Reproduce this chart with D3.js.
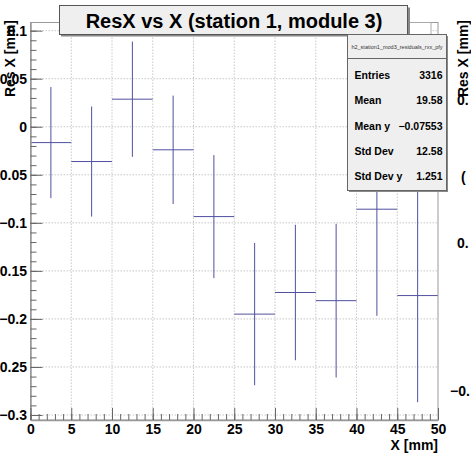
<!DOCTYPE html>
<html>
<head>
<meta charset="utf-8">
<script src="https://cdn.jsdelivr.net/npm/d3@7"></script>
<style>
  body { margin: 0; background: #fff; }
  svg { display: block; font-family: "Liberation Sans", Arial, sans-serif; font-weight: bold; }
</style>
</head>
<body>
<div id="chart"></div>
<script>
// bins of the profile (low edge, width 5 mm)
const binLow = [0, 5, 10, 15, 20, 25, 30, 35, 40, 45];
const binWidth = 5;
const meanY = [-0.0165, -0.0362, 0.0287, -0.024, -0.0935, -0.195, -0.1725, -0.181, -0.0858, -0.1757];
const errY = [0.0578, 0.0573, 0.06, 0.0564, 0.064, 0.074, 0.0705, 0.08, 0.111, 0.111];

const xTicks = [0, 5, 10, 15, 20, 25, 30, 35, 40, 45, 50];
const yTicks = [0.1, 0.05, 0, -0.05, -0.1, -0.15, -0.2, -0.25, -0.3];

const chartTitle = "ResX vs X (station 1, module 3)";
const histName = "h2_station1_mod3_residuals_rxx_pfy";
const statLabels = ["Entries", "Mean", "Mean y", "Std Dev", "Std Dev y"];
const statValues = ["3316", "19.58", "\u22120.07553", "12.58", "1.251"];

const W = 471, H = 455;
const frame = { left: 30.5, right: 438, top: 22.5, bottom: 420 };

const svg = d3.select("#chart").append("svg")
  .attr("width", W).attr("height", H);

const x = d3.scaleLinear().domain([0, 50]).range([frame.left, frame.right]);
const y = d3.scaleLinear().domain([-0.3052, 0.1085]).range([frame.bottom, frame.top]);

// grid (dotted)
const grid = svg.append("g").attr("stroke", "#c8c8c8").attr("stroke-dasharray", "1.5,1.5").attr("stroke-width", 1);
grid.selectAll("line.gx").data(xTicks.slice(1, -1)).join("line")
  .attr("x1", d => x(d)).attr("x2", d => x(d))
  .attr("y1", frame.top).attr("y2", frame.bottom);
grid.selectAll("line.gy").data(yTicks).join("line")
  .attr("x1", frame.left).attr("x2", frame.right)
  .attr("y1", d => y(d)).attr("y2", d => y(d));

// error bars
const bars = svg.append("g").attr("stroke", "#5050a0").attr("stroke-width", 1);
binLow.forEach((lo, i) => {
  const c = lo + binWidth / 2;
  bars.append("line")
    .attr("x1", x(lo)).attr("x2", x(lo + binWidth))
    .attr("y1", y(meanY[i])).attr("y2", y(meanY[i]));
  bars.append("line")
    .attr("x1", x(c)).attr("x2", x(c))
    .attr("y1", y(meanY[i] + errY[i])).attr("y2", y(meanY[i] - errY[i]));
});

// frame
svg.append("rect")
  .attr("x", frame.left).attr("y", frame.top)
  .attr("width", frame.right - frame.left).attr("height", frame.bottom - frame.top)
  .attr("fill", "none").attr("stroke", "#999").attr("stroke-width", 1);

const fmt = d3.format("~f");

// y axis, ticks pointing inward
svg.append("g").attr("transform", `translate(${frame.left},0)`)
  .call(d3.axisLeft(y).tickValues(yTicks).tickFormat(fmt).tickSizeInner(-12).tickSizeOuter(0).tickPadding(3.5));
svg.append("g").attr("transform", `translate(${frame.left},0)`)
  .call(d3.axisLeft(y).ticks(40).tickFormat("").tickSizeInner(-6).tickSizeOuter(0))
  .select(".domain").remove();

svg.append("g").attr("transform", `translate(0,${frame.bottom})`)
  .call(d3.axisBottom(x).tickValues(xTicks).tickFormat(fmt).tickSizeInner(-12).tickSizeOuter(0).tickPadding(4));
svg.append("g").attr("transform", `translate(0,${frame.bottom})`)
  .call(d3.axisBottom(x).ticks(50).tickFormat("").tickSizeInner(-6).tickSizeOuter(0))
  .select(".domain").remove();

svg.selectAll(".tick line").attr("stroke", "#666");
svg.selectAll(".domain").attr("stroke", "#999").attr("stroke-width", 1.5);
svg.selectAll(".tick text").attr("font-size", 14).attr("font-weight", "bold")
  .attr("font-family", "Liberation Sans, Arial, sans-serif").attr("fill", "#000");

// axis titles
svg.append("text").attr("x", frame.right).attr("y", 450)
  .attr("text-anchor", "end").attr("font-size", 14).attr("fill", "#000").text("X [mm]");
svg.append("text").attr("transform", "translate(15,20) rotate(-90)")
  .attr("text-anchor", "end").attr("font-size", 14).attr("fill", "#000").text("Res X [mm]");

// hidden box edge behind stats
svg.append("rect").attr("x", 347).attr("y", 22.5).attr("width", 84).attr("height", 13)
  .attr("fill", "#fff").attr("stroke", "#aaa").attr("stroke-width", 1);

// title box
svg.append("rect").attr("x", 61).attr("y", 7.5).attr("width", 349).attr("height", 29)
  .attr("fill", "#888");
svg.append("rect").attr("x", 59.5).attr("y", 5.5).attr("width", 348).attr("height", 29)
  .attr("fill", "#efefef").attr("stroke", "#555").attr("stroke-width", 1);
svg.append("text").attr("x", 234).attr("y", 28).attr("text-anchor", "middle")
  .attr("font-size", 20).attr("fill", "#000").text(chartTitle);

// stats box
const sb = { x: 347.5, y: 34.5, w: 99, h: 156 };
svg.append("rect").attr("x", sb.x + 1.5).attr("y", sb.y + 1.5).attr("width", sb.w).attr("height", sb.h)
  .attr("fill", "#888");
svg.append("rect").attr("x", sb.x).attr("y", sb.y).attr("width", sb.w).attr("height", sb.h)
  .attr("fill", "#efefef").attr("stroke", "#666").attr("stroke-width", 1);
svg.append("line").attr("x1", sb.x).attr("x2", sb.x + sb.w)
  .attr("y1", 58.5).attr("y2", 58.5).attr("stroke", "#666");
svg.append("text").attr("x", sb.x + sb.w / 2).attr("y", 49).attr("text-anchor", "middle")
  .attr("font-size", 5.5).attr("font-weight", "normal").attr("fill", "#333").text(histName);
const rowY = d3.scalePoint().domain(statLabels).range([79, 180]);
svg.selectAll("text.slab").data(statLabels).join("text")
  .attr("x", sb.x + 7).attr("y", d => rowY(d)).attr("font-size", 10.5).attr("fill", "#000").text(d => d);
svg.selectAll("text.sval").data(statValues).join("text")
  .attr("x", sb.x + sb.w - 4).attr("y", (d, i) => rowY(statLabels[i])).attr("text-anchor", "end")
  .attr("font-size", 10.5).attr("fill", "#000").text(d => d);

// neighbouring pad, clipped at the right edge
svg.append("text").attr("transform", "translate(468,20) rotate(-90)")
  .attr("text-anchor", "end").attr("font-size", 14).attr("fill", "#000").text("Res X [mm]");
const sideLabels = [["0.", 457, 105], ["(", 461, 182], ["0.", 457, 248], ["\u22120.", 450, 396]];
svg.selectAll("text.side").data(sideLabels).join("text")
  .attr("x", d => d[1]).attr("y", d => d[2]).attr("font-size", 14).attr("fill", "#000").text(d => d[0]);
</script>
</body>
</html>
